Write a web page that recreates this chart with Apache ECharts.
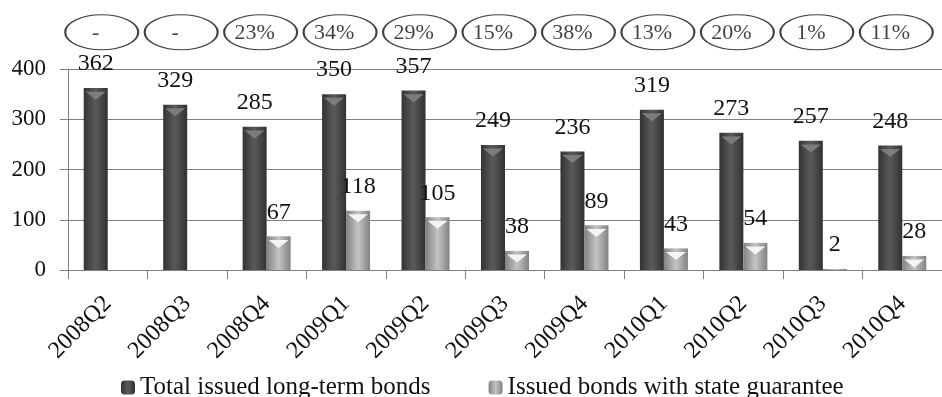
<!DOCTYPE html>
<html>
<head>
<meta charset="utf-8">
<script src="https://cdn.jsdelivr.net/npm/echarts@6/dist/echarts.min.js"></script>
<style>html,body{margin:0;padding:0;background:#fff}#c{width:942px;height:397px}</style>
</head>
<body>
<div id="c"></div>
<script>
const categories = ['2008Q2','2008Q3','2008Q4','2009Q1','2009Q2','2009Q3','2009Q4','2010Q1','2010Q2','2010Q3','2010Q4'];
const totalBonds = [362, 329, 285, 350, 357, 249, 236, 319, 273, 257, 248];
const guaranteedBonds = [null, null, 67, 118, 105, 38, 89, 43, 54, 2, 28];
const shareLabels = ['-', '-', '23%', '34%', '29%', '15%', '38%', '13%', '20%', '1%', '11%'];
const yTicks = [0, 100, 200, 300, 400];

const serif = '"Liberation Serif", "DejaVu Serif", serif';
const chart = echarts.init(document.getElementById('c'));
const darkGrad = new echarts.graphic.LinearGradient(0, 0, 1, 0, [
  {offset: 0, color: '#333333'}, {offset: 0.45, color: '#585858'}, {offset: 0.55, color: '#565656'}, {offset: 1, color: '#313131'}]);
const lightGrad = new echarts.graphic.LinearGradient(0, 0, 1, 0, [
  {offset: 0, color: '#828282'}, {offset: 0.5, color: '#c4c4c4'}, {offset: 1, color: '#828282'}]);
const tri = 'path://M0,0 L20,0 L10,8 Z';
function chevrons(arr) {
  return arr.map(v => v == null ? null : (v < 10 ? {value: v, symbolSize: [0, 0]} : v));
}
const ellipseY = 473;

chart.setOption({
  animation: false,
  grid: {left: 68, width: 880, top: 69, height: 201},
  legend: {
    data: ['Total issued long-term bonds', 'Issued bonds with state guarantee'],
    left: 116, top: 370, itemWidth: 14, itemHeight: 14, itemGap: 58,
    textStyle: {fontFamily: serif, fontSize: 25, color: '#111'}
  },
  xAxis: {
    type: 'category', data: categories,
    axisLine: {lineStyle: {color: '#808080', width: 1}},
    axisTick: {show: true, length: 9, lineStyle: {color: '#808080'}},
    axisLabel: {rotate: 45, margin: 30, fontFamily: serif, fontSize: 24, color: '#111', interval: 0}
  },
  yAxis: {
    type: 'value', min: yTicks[0], max: yTicks[yTicks.length - 1], interval: 100,
    axisLine: {show: true, lineStyle: {color: '#808080', width: 1}},
    axisTick: {show: true, length: 8, lineStyle: {color: '#808080'}},
    splitLine: {lineStyle: {color: '#808080', width: 1}},
    axisLabel: {margin: 22, fontFamily: serif, fontSize: 23, color: '#111'}
  },
  series: [
    {
      name: 'Total issued long-term bonds', type: 'bar', data: totalBonds,
      barWidth: 24, barGap: '0%',
      itemStyle: {color: darkGrad},
      label: {show: true, position: 'top', distance: 12, fontFamily: serif, fontSize: 24, color: '#111'}
    },
    {
      name: 'Issued bonds with state guarantee', type: 'bar', data: guaranteedBonds,
      barWidth: 24, barGap: '0%',
      itemStyle: {color: lightGrad},
      label: {show: true, position: 'top', distance: 12, fontFamily: serif, fontSize: 24, color: '#111'}
    },
    {
      name: 'topA', type: 'pictorialBar', data: chevrons(totalBonds),
      barWidth: 24, barGap: '0%', symbol: tri, symbolSize: [20, 8],
      symbolPosition: 'end', symbolOffset: [0, '45%'], z: 5, silent: true,
      itemStyle: {color: '#7c7c7c'}
    },
    {
      name: 'topB', type: 'pictorialBar', data: chevrons(guaranteedBonds),
      barWidth: 24, barGap: '0%', symbol: tri, symbolSize: [20, 8],
      symbolPosition: 'end', symbolOffset: [0, '45%'], z: 5, silent: true,
      itemStyle: {color: '#f4f4f4'}
    },
    {
      name: 'share', type: 'scatter', clip: false, silent: true,
      data: categories.map((c, i) => [c, ellipseY, shareLabels[i]]),
      symbol: 'circle', symbolSize: [73, 35], symbolOffset: [-6, 0],
      itemStyle: {color: '#fff', borderColor: '#111', borderWidth: 1.5},
      label: {show: true, position: 'inside', offset: [-6, 1], formatter: p => p.data[2],
        fontFamily: serif, fontSize: 22, color: '#111'}
    }
  ]
});
</script>
</body>
</html>
